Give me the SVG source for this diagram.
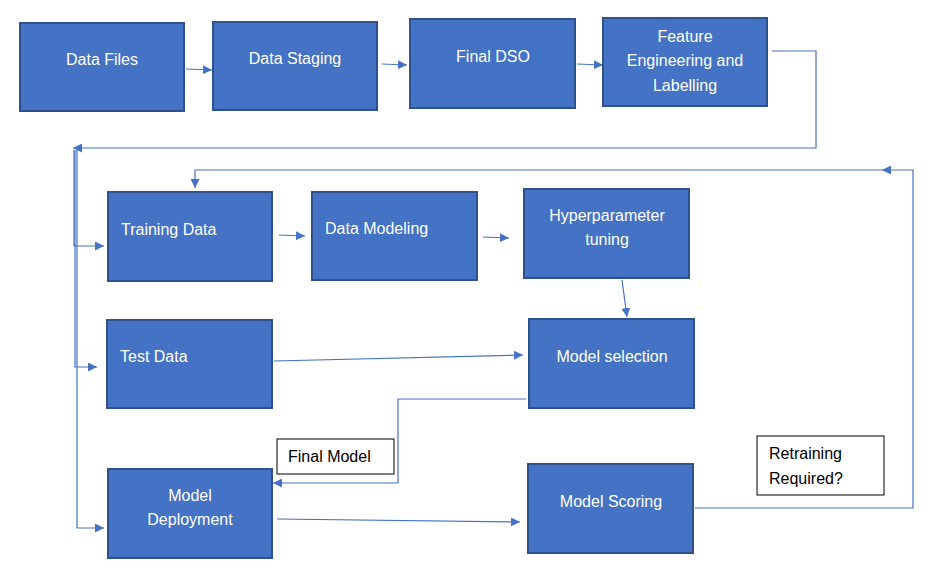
<svg xmlns="http://www.w3.org/2000/svg" width="939" height="575" viewBox="0 0 939 575">
<defs>
<marker id="ah" viewBox="0 0 10 10" refX="10" refY="5" markerWidth="9" markerHeight="9" markerUnits="userSpaceOnUse" orient="auto">
<path d="M0,0 L10,5 L0,10 z" fill="#4472C4"/>
</marker>
</defs>
<style>
.box{fill:#4472C4;stroke:#2F528F;stroke-width:2}
.lbl{fill:#fff;stroke:#000;stroke-width:1}
.t{font-family:"Liberation Sans",Arial,sans-serif;font-size:16px;fill:#fff}
.k{font-family:"Liberation Sans",Arial,sans-serif;font-size:16px;fill:#000}
.c{fill:none;stroke:#4472C4;stroke-width:1.2;marker-end:url(#ah)}
.n{fill:none;stroke:#4472C4;stroke-width:1.2}
</style>
<rect width="939" height="575" fill="#fff"/>
<g id="connectors">
<path class="c" d="M186,69 L212,70"/>
<path class="c" d="M382,64 L407,65"/>
<path class="c" d="M577,64 L603,65"/>
<path class="c" d="M772,51 L816,51 L816,148 L73,148"/>
<path class="c" d="M74,150 L74,246 L104,246"/>
<path class="c" d="M75,150 L75,367 L97,367"/>
<path class="c" d="M77,150 L77,528 L104,528"/>
<path class="c" d="M279,235 L305,236"/>
<path class="c" d="M483,237 L509,238"/>
<path class="c" d="M622,280 L627,317"/>
<path class="c" d="M274,361 L523,355"/>
<path class="c" d="M526,399 L398,399 L398,483 L273,483"/>
<path class="c" d="M277,519 L520,522"/>
<path class="c" d="M695,508 L913,508 L913,170 L882,170"/>
<path class="c" d="M882,170 L195,170 L195,188"/>
</g>
<g id="data-files"><rect class="box" x="20" y="23" width="164" height="88"/><text class="t" x="102" y="65" text-anchor="middle">Data Files</text></g>
<g id="data-staging"><rect class="box" x="213" y="22" width="164" height="88"/><text class="t" x="295" y="64" text-anchor="middle">Data Staging</text></g>
<g id="final-dso"><rect class="box" x="410" y="19" width="165" height="89"/><text class="t" x="493" y="62" text-anchor="middle">Final DSO</text></g>
<g id="feature-engineering"><rect class="box" x="603" y="18" width="164" height="88"/><text class="t" x="685" y="42" text-anchor="middle">Feature</text><text class="t" x="685" y="66" text-anchor="middle">Engineering and</text><text class="t" x="685" y="91" text-anchor="middle">Labelling</text></g>
<g id="training-data"><rect class="box" x="108" y="192" width="164" height="89"/><text class="t" x="121" y="235">Training Data</text></g>
<g id="data-modeling"><rect class="box" x="312" y="192" width="165" height="88"/><text class="t" x="325" y="234">Data Modeling</text></g>
<g id="hyperparameter-tuning"><rect class="box" x="524" y="189" width="165" height="89"/><text class="t" x="607" y="221" text-anchor="middle">Hyperparameter</text><text class="t" x="607" y="245" text-anchor="middle">tuning</text></g>
<g id="test-data"><rect class="box" x="107" y="320" width="165" height="88"/><text class="t" x="120" y="362">Test Data</text></g>
<g id="model-selection"><rect class="box" x="529" y="319" width="165" height="89"/><text class="t" x="612" y="362" text-anchor="middle">Model selection</text></g>
<g id="final-model-label"><rect class="lbl" x="277" y="439" width="117" height="35"/><text class="k" x="288" y="462">Final Model</text></g>
<g id="model-deployment"><rect class="box" x="108" y="469" width="164" height="89"/><text class="t" x="190" y="501" text-anchor="middle">Model</text><text class="t" x="190" y="525" text-anchor="middle">Deployment</text></g>
<g id="model-scoring"><rect class="box" x="528" y="464" width="165" height="89"/><text class="t" x="611" y="507" text-anchor="middle">Model Scoring</text></g>
<g id="retraining-label"><rect class="lbl" x="757" y="436" width="127" height="59"/><text class="k" x="769" y="459">Retraining</text><text class="k" x="769" y="484">Required?</text></g>
</svg>
